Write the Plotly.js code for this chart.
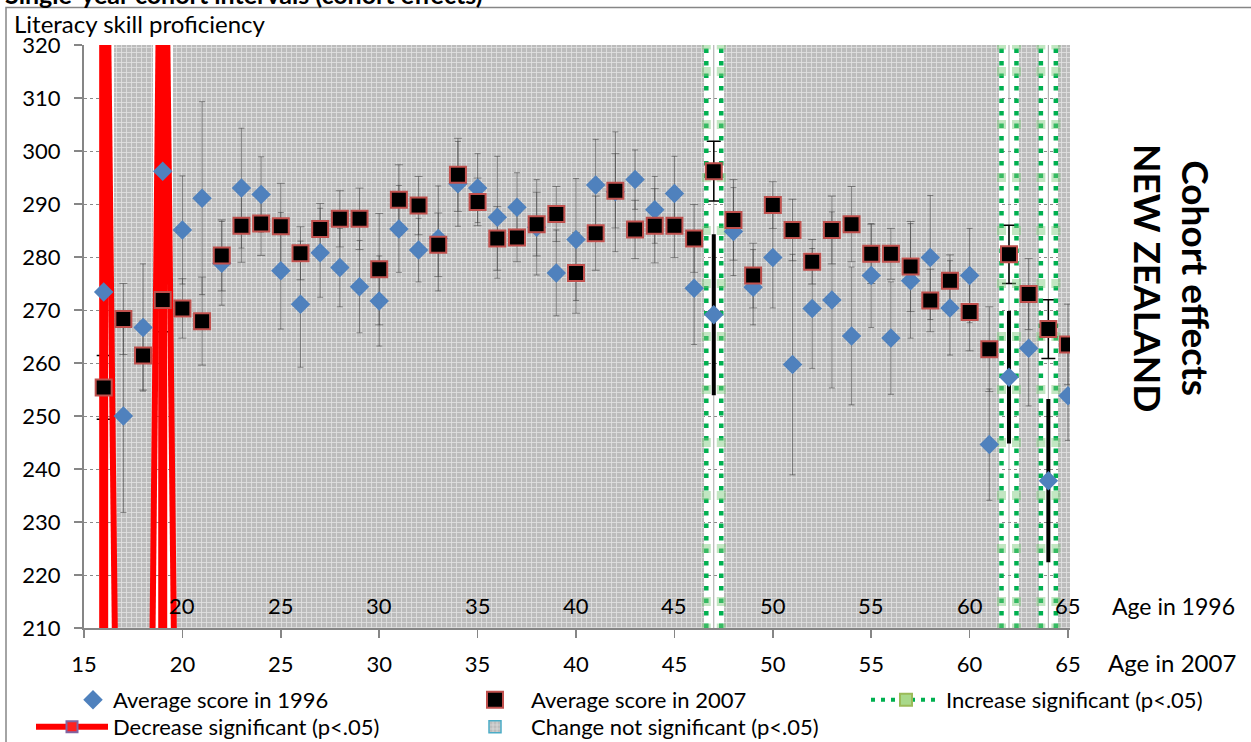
<!DOCTYPE html>
<html>
<head>
<meta charset="utf-8">
<script src="https://cdn.plot.ly/plotly-3.0.1.min.js"></script>
<style>
html,body{margin:0;padding:0;background:#fff;}
#chart{width:1251px;height:742px;}
</style>
</head>
<body>
<div id="chart"></div>
<script>
// ---------------- DATA ----------------
const ages = [16,17,18,19,20,21,22,23,24,25,26,27,28,29,30,31,32,33,34,35,
              36,37,38,39,40,41,42,43,44,45,46,47,48,49,50,51,52,53,54,55,
              56,57,58,59,60,61,62,63,64,65];

const score1996 = [273.4,250.0,266.7,296.2,285.1,291.1,278.8,293.0,291.8,277.4,
                   271.1,280.8,278.0,274.4,271.7,285.3,281.3,283.5,293.8,293.0,
                   287.5,289.4,285.6,277.0,283.3,293.6,292.3,294.6,288.9,292.0,
                   274.1,269.1,284.8,274.3,279.9,259.7,270.3,271.9,265.1,276.5,
                   264.7,275.5,279.9,270.4,276.5,244.6,257.3,262.8,237.8,253.8];

const score2007 = [255.4,268.3,261.4,271.9,270.3,267.9,280.3,285.9,286.3,285.8,
                   280.7,285.3,287.2,287.2,277.7,290.8,289.7,282.3,295.5,290.4,
                   283.5,283.7,286.2,288.1,277.0,284.5,292.5,285.2,285.9,285.9,
                   283.5,296.2,287.0,276.5,289.8,285.1,279.1,285.1,286.2,280.6,
                   280.6,278.2,271.8,275.5,269.6,262.6,280.5,273.0,266.4,263.5];

const err1996 = [11.0,18.2,12.0,10.0,10.2,18.2,7.9,11.3,7.1,11.0,
                 11.9,8.4,7.4,8.7,8.5,8.2,6.0,9.9,8.0,6.5,
                 11.5,6.5,9.0,8.1,11.5,8.6,11.3,5.6,6.3,7.0,
                 10.6,15.2,8.3,7.1,9.5,20.8,11.3,16.6,13.0,9.8,
                 10.6,10.8,11.7,8.9,8.9,10.5,12.5,10.9,15.4,8.4];

const err2007 = [6.0,6.7,6.5,6.0,5.6,8.3,6.7,6.9,6.0,8.1,
                 5.0,4.8,5.3,5.8,10.5,6.6,5.5,6.0,6.9,4.5,
                 6.0,4.6,6.0,5.2,7.6,7.0,7.0,5.5,7.0,6.0,
                 6.4,5.65,7.6,6.1,4.4,5.8,4.2,6.4,7.1,5.6,
                 4.8,8.5,5.9,4.9,7.3,8.0,5.5,6.7,5.55,7.6];

// change between 1996 and 2007 for each age: 'dec' decrease significant, 'inc' increase significant, 'ns' not significant
const change = ['dec','ns','ns','dec','ns','ns','ns','ns','ns','ns',
                'ns','ns','ns','ns','ns','ns','ns','ns','ns','ns',
                'ns','ns','ns','ns','ns','ns','ns','ns','ns','ns',
                'ns','inc','ns','ns','ns','ns','ns','ns','ns','ns',
                'ns','ns','ns','ns','ns','ns','inc','ns','inc','ns'];

const xTickVals = [15,20,25,30,35,40,45,50,55,60,65];
const xTickText2007 = ['15','20','25','30','35','40','45','50','55','60','65'];
const age1996Pos = [20,25,30,35,40,45,50,55,60,65];
const age1996Text = ['20','25','30','35','40','45','50','55','60','65'];
const yTickVals = [210,220,230,240,250,260,270,280,290,300,310,320];

const names = {
  s96: 'Average score in 1996',
  s07: 'Average score in 2007',
  inc: 'Increase significant (p<.05)',
  dec: 'Decrease significant (p<.05)',
  ns: 'Change not significant (p<.05)'
};

// ---------------- helpers ----------------
const yRange = [210, 320];
const FONT = 'Lato, "Open Sans", sans-serif';
function pick(arr, test) { return arr.filter((_, i) => test(change[i])); }
const isNs = c => c === 'ns';
const isSig = c => c !== 'ns';

const nsAges = pick(ages, isNs);
const sigAges = pick(ages, isSig);
const incAges = pick(ages, c => c === 'inc');
const decAges = pick(ages, c => c === 'dec');

const greyPattern = {shape:'+', fgcolor:'#e2e2e2', bgcolor:'#bcbcbc', size:5, solidity:0.3, fillmode:'replace'};

// background bars (change not significant)
const bgBars = {
  type:'bar', x: nsAges, y: nsAges.map(() => yRange[1]), width: 1,
  marker:{color:'#c4c4c4', pattern: greyPattern, line:{width:0}},
  hoverinfo:'skip', showlegend:false
};

// thin centre line at significant ages
const cX = [], cY = [];
sigAges.forEach(a => { cX.push(a, a, null); cY.push(yRange[0], yRange[1], null); });
const centreLines = {type:'scatter', mode:'lines', x:cX, y:cY, line:{color:'#a6a6a6', width:1}, hoverinfo:'skip', showlegend:false};

// error bars
const errNs96 = {type:'scatter', mode:'markers', x: nsAges, y: pick(score1996, isNs),
  marker:{opacity:0, size:1}, error_y:{type:'data', array: pick(err1996, isNs), color:'rgba(60,60,60,0.55)', thickness:1, width:3},
  hoverinfo:'skip', showlegend:false};
const errNs07 = {type:'scatter', mode:'markers', x: nsAges, y: pick(score2007, isNs),
  marker:{opacity:0, size:1}, error_y:{type:'data', array: pick(err2007, isNs), color:'rgba(60,60,60,0.55)', thickness:1, width:4},
  hoverinfo:'skip', showlegend:false};
const errSig96 = {type:'scatter', mode:'markers', x: sigAges, y: pick(score1996, isSig),
  marker:{opacity:0, size:1}, error_y:{type:'data', array: pick(err1996, isSig), color:'#000', thickness:4, width:0},
  hoverinfo:'skip', showlegend:false};
const errSig07 = {type:'scatter', mode:'markers', x: sigAges, y: pick(score2007, isSig),
  marker:{opacity:0, size:1}, error_y:{type:'data', array: pick(err2007, isSig), color:'#000', thickness:1.5, width:7},
  hoverinfo:'skip', showlegend:false};

// green dotted lines (increase significant)
const gOff = 0.38;
const gX = [], gY = [];
const gStep = yTickVals.slice(0, -1).map(v => v + 5);
incAges.forEach(a => {
  [-gOff, gOff].forEach(o => {
    gX.push(a + o); gY.push(yRange[0]);
    gStep.forEach(v => { gX.push(a + o); gY.push(v); });
    gX.push(a + o, null); gY.push(yRange[1], null);
  });
});
const greenLines = {type:'scatter', mode:'lines+markers', x:gX, y:gY,
  line:{color:'#00b050', width:4.5, dash:'4.5px,8px'},
  marker:{symbol:'square', size:9, color:'rgba(120,200,120,0.45)', line:{width:0}},
  hoverinfo:'skip', showlegend:false};

// red lines (decrease significant) – legs meeting above the plot
const apex = 400;
const sideOffsets = [-0.52, 0.57];
const rcX = [], rcY = [], rsX = [], rsY = [];
decAges.forEach(a => {
  rcX.push(a, a, null); rcY.push(yRange[0] - 2, apex, null);
  sideOffsets.forEach(o => {
    if (a + o > ages[0] - 0.5) { rsX.push(a + o, a, null); rsY.push(yRange[0] - 2, apex, null); }
  });
});
const redCentre = {type:'scatter', mode:'lines', x:rcX, y:rcY, line:{color:'#ff0000', width:9}, hoverinfo:'skip', showlegend:false};
const redSides = {type:'scatter', mode:'lines', x:rsX, y:rsY, line:{color:'#ff0000', width:6}, hoverinfo:'skip', showlegend:false};

// markers
const s96 = {type:'scatter', mode:'markers', name: names.s96, x: ages, y: score1996,
  marker:{symbol:'diamond', size:15, color:'#4f81bd', line:{width:0}},
  legend:'legend'};
const s07 = {type:'scatter', mode:'markers', name: names.s07, x: ages, y: score2007,
  marker:{symbol:'square', size:16, color:'#000', line:{color:'#c0504d', width:2}},
  legend:'legend2'};

// legend-only entries
const legDec = {type:'scatter', mode:'lines+markers', name: names.dec, x:[null], y:[null],
  line:{color:'#ff0000', width:6}, marker:{symbol:'square', size:11, color:'#ff2020', line:{color:'#8064a2', width:2}},
  legend:'legend4'};
const legNs = {type:'bar', name: names.ns, x:[null], y:[null],
  marker:{color:'#c4c4c4', pattern: greyPattern, line:{color:'#4bacc6', width:1.5}},
  legend:'legend5'};
const legInc = {type:'scatter', mode:'lines+markers', name: names.inc, x:[null], y:[null],
  line:{color:'#00b050', width:4, dash:'4px,6px'}, marker:{symbol:'square', size:12, color:'#a9d98a', line:{color:'#9bbb59', width:2}},
  legend:'legend3'};

const data = [bgBars, centreLines, errNs96, errNs07, errSig96, errSig07, greenLines, redSides, redCentre, s96, s07, legDec, legNs, legInc];

// ---------------- LAYOUT ----------------
const plotL = 84, plotW = 986, plotT = 45, plotH = 583;
const px2x = p => (p - plotL) / plotW;
const py2y = p => 1 - (p - plotT) / plotH;

const legendBase = {orientation:'v', xanchor:'left', yanchor:'top', bgcolor:'rgba(0,0,0,0)', borderwidth:0,
  font:{family:FONT, size:22, color:'#000'}, traceorder:'normal', tracegroupgap:0};

const annotations = [
  {text:'<b>Single-year cohort intervals (cohort effects)</b>', xref:'paper', yref:'paper', x:px2x(3), y:py2y(11),
   xanchor:'left', yanchor:'bottom', showarrow:false, font:{family:FONT, size:25, color:'#000'}},
  {text:'Literacy skill proficiency', xref:'paper', yref:'paper', x:px2x(12), y:py2y(23),
   xanchor:'left', yanchor:'middle', showarrow:false, font:{family:FONT, size:24, color:'#000'}},
  {text:'<b>Cohort effects</b><br><b>NEW ZEALAND</b>', xref:'paper', yref:'paper', x:px2x(1173), y:py2y(278),
   xanchor:'center', yanchor:'middle', textangle:90, showarrow:false, font:{family:FONT, size:37, color:'#000'}},
  {text:'Age in 1996', xref:'paper', yref:'paper', x:px2x(1110), y:py2y(606),
   xanchor:'left', yanchor:'middle', showarrow:false, font:{family:FONT, size:23, color:'#000'}},
  {text:'Age in 2007', xref:'paper', yref:'paper', x:px2x(1106), y:py2y(662),
   xanchor:'left', yanchor:'middle', showarrow:false, font:{family:FONT, size:24, color:'#000'}}
];
age1996Pos.forEach((p, i) => annotations.push({
  text: age1996Text[i], xref:'x', yref:'y', x:p, y:214.3, xanchor:'center', yanchor:'middle',
  showarrow:false, font:{family:FONT, size:22, color:'#000'}
}));

const layout = {
  width:1251, height:742,
  margin:{l:plotL, r:1251 - plotL - plotW, t:plotT, b:742 - plotT - plotH, pad:0, autoexpand:false},
  paper_bgcolor:'#ffffff', plot_bgcolor:'#ffffff',
  font:{family:FONT, size:21, color:'#000'},
  barmode:'overlay', bargap:0,
  showlegend:true,
  hovermode:false,
  xaxis:{range:[15, 65.1], tickmode:'array', tickvals:xTickVals, ticktext:xTickText2007,
    ticks:'outside', ticklen:8, tickwidth:1.5, tickcolor:'#868686',
    showline:true, linecolor:'#868686', linewidth:2, showgrid:false, zeroline:false,
    tickfont:{family:FONT, size:22, color:'#000'}, ticklabelstandoff:8, fixedrange:true},
  yaxis:{range:yRange, tickmode:'array', tickvals:yTickVals,
    ticks:'outside', ticklen:8, tickwidth:1.5, tickcolor:'#868686',
    showline:true, linecolor:'#868686', linewidth:2,
    showgrid:true, gridcolor:'#8a8a8a', griddash:'dot', gridwidth:1, zeroline:false,
    tickfont:{family:FONT, size:22, color:'#000'}, ticklabelstandoff:9, fixedrange:true},
  legend: Object.assign({}, legendBase, {x:px2x(73), y:py2y(679), itemwidth:30}),
  legend2: Object.assign({}, legendBase, {x:px2x(459), y:py2y(679), itemwidth:62}),
  legend3: Object.assign({}, legendBase, {x:px2x(866), y:py2y(679), itemwidth:70}),
  legend4: Object.assign({}, legendBase, {x:px2x(31), y:py2y(706), itemwidth:72}),
  legend5: Object.assign({}, legendBase, {x:px2x(459), y:py2y(706), itemwidth:62}),
  annotations: annotations,
  shapes:[
    {type:'rect', xref:'paper', yref:'paper', x0:px2x(6), x1:px2x(1300), y0:py2y(800), y1:py2y(7.5),
     line:{color:'#868686', width:1.5}, fillcolor:'rgba(0,0,0,0)', layer:'below'}
  ]
};

Plotly.newPlot('chart', data, layout, {displayModeBar:false, staticPlot:true});
</script>
</body>
</html>
